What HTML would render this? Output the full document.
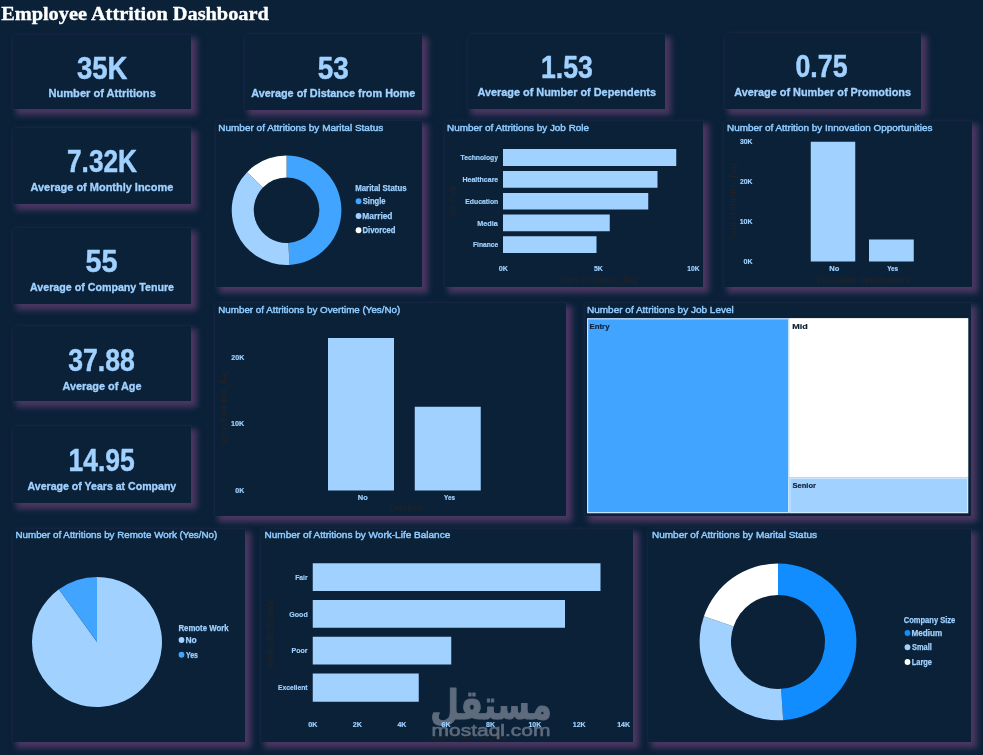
<!DOCTYPE html>
<html lang="en">
<head>
<meta charset="utf-8">
<title>Employee Attrition Dashboard</title>
<style>
html,body{margin:0;padding:0;background:#0a2138;}
body{width:983px;height:755px;position:relative;overflow:hidden;font-family:"Liberation Sans",Arial,sans-serif;}
.p{position:absolute;background:#0a2138;box-shadow:4.5px 4.5px 6px 1.5px #4b3762,0 0 1.5px 1.5px rgba(70,60,130,.13);}
svg{position:absolute;left:0;top:0;}
text{white-space:pre;}
</style>
</head>
<body>
<div class="p" style="left:12.8px;top:34.9px;width:178.50px;height:73.70px"></div>
<div class="p" style="left:244.6px;top:33.9px;width:177.20px;height:76.10px"></div>
<div class="p" style="left:467.7px;top:33.9px;width:197.30px;height:74.70px"></div>
<div class="p" style="left:724.6px;top:33.2px;width:196.40px;height:75.70px"></div>
<div class="p" style="left:12.8px;top:127.8px;width:178.60px;height:76.20px"></div>
<div class="p" style="left:12.8px;top:227.8px;width:178.60px;height:76.20px"></div>
<div class="p" style="left:12.8px;top:325.8px;width:178.60px;height:75.20px"></div>
<div class="p" style="left:12.8px;top:425.8px;width:178.40px;height:76.90px"></div>
<div class="p" style="left:215.7px;top:121px;width:206.30px;height:165.75px"></div>
<div class="p" style="left:444.6px;top:121px;width:258.60px;height:165.75px"></div>
<div class="p" style="left:724.2px;top:121px;width:247.80px;height:165.75px"></div>
<div class="p" style="left:215.3px;top:303px;width:350.45px;height:212.75px"></div>
<div class="p" style="left:584.5px;top:303px;width:386.00px;height:212.60px"></div>
<div class="p" style="left:13px;top:528.6px;width:231.60px;height:213.65px"></div>
<div class="p" style="left:261.4px;top:528.6px;width:371.60px;height:213.65px"></div>
<div class="p" style="left:648.3px;top:528.6px;width:322.45px;height:213.65px"></div>
<svg width="983" height="755" viewBox="0 0 983 755">
<text font-family="Liberation Sans, Arial, sans-serif" font-size="9" fill="#232429" id="t0" x="430.50" y="739.20" textLength="76.00" lengthAdjust="spacingAndGlyphs">Sum of Attrition_flag</text>
<g transform="translate(491 718.6) scale(0.83 1.03)">
<text font-family="DejaVu Sans, sans-serif" font-size="40" fill="#5d6b7c" font-weight="bold" stroke="#5d6b7c" stroke-width="1.0" stroke-linejoin="round" x="0.00" y="0.00" text-anchor="middle" id="wm">مستقل</text>
</g>
<text font-family="Liberation Sans, Arial, sans-serif" font-size="16.6" fill="#5d6b7c" stroke="#5d6b7c" stroke-width="0.6" stroke-linejoin="round" id="t1" x="431.50" y="735.60" textLength="119.00" lengthAdjust="spacingAndGlyphs">mostaql.com</text>
<text font-family="Liberation Serif, Times New Roman, serif" font-size="19.2" fill="#ffffff" font-weight="bold" stroke="#ffffff" stroke-width="0.35" stroke-linejoin="round" id="t2" x="1.15" y="20.00" textLength="267.70" lengthAdjust="spacingAndGlyphs">Employee Attrition Dashboard</text>
<text font-family="Liberation Sans, Arial, sans-serif" font-size="30.9" fill="#a0d1ff" font-weight="bold" stroke="#a0d1ff" stroke-width="0.5" stroke-linejoin="round" id="t3" x="77.00" y="79.00" textLength="50.50" lengthAdjust="spacingAndGlyphs">35K</text>
<text font-family="Liberation Sans, Arial, sans-serif" font-size="11.5" fill="#a0d1ff" font-weight="bold" stroke="#a0d1ff" stroke-width="0.35" stroke-linejoin="round" id="t4" x="48.50" y="96.90" textLength="107.30" lengthAdjust="spacingAndGlyphs">Number of Attritions</text>
<text font-family="Liberation Sans, Arial, sans-serif" font-size="30.9" fill="#a0d1ff" font-weight="bold" stroke="#a0d1ff" stroke-width="0.5" stroke-linejoin="round" id="t5" x="317.75" y="78.75" textLength="31.00" lengthAdjust="spacingAndGlyphs">53</text>
<text font-family="Liberation Sans, Arial, sans-serif" font-size="11.5" fill="#a0d1ff" font-weight="bold" stroke="#a0d1ff" stroke-width="0.35" stroke-linejoin="round" id="t6" x="251.25" y="97.00" textLength="164.00" lengthAdjust="spacingAndGlyphs">Average of Distance from Home</text>
<text font-family="Liberation Sans, Arial, sans-serif" font-size="30.9" fill="#a0d1ff" font-weight="bold" stroke="#a0d1ff" stroke-width="0.5" stroke-linejoin="round" id="t7" x="541.00" y="78.00" textLength="51.75" lengthAdjust="spacingAndGlyphs">1.53</text>
<text font-family="Liberation Sans, Arial, sans-serif" font-size="11.5" fill="#a0d1ff" font-weight="bold" stroke="#a0d1ff" stroke-width="0.35" stroke-linejoin="round" id="t8" x="477.50" y="96.25" textLength="178.50" lengthAdjust="spacingAndGlyphs">Average of Number of Dependents</text>
<text font-family="Liberation Sans, Arial, sans-serif" font-size="30.9" fill="#a0d1ff" font-weight="bold" stroke="#a0d1ff" stroke-width="0.5" stroke-linejoin="round" id="t9" x="795.50" y="77.00" textLength="52.00" lengthAdjust="spacingAndGlyphs">0.75</text>
<text font-family="Liberation Sans, Arial, sans-serif" font-size="11.5" fill="#a0d1ff" font-weight="bold" stroke="#a0d1ff" stroke-width="0.35" stroke-linejoin="round" id="t10" x="734.25" y="96.25" textLength="176.75" lengthAdjust="spacingAndGlyphs">Average of Number of Promotions</text>
<text font-family="Liberation Sans, Arial, sans-serif" font-size="30.9" fill="#a0d1ff" font-weight="bold" stroke="#a0d1ff" stroke-width="0.5" stroke-linejoin="round" id="t11" x="67.00" y="171.75" textLength="70.00" lengthAdjust="spacingAndGlyphs">7.32K</text>
<text font-family="Liberation Sans, Arial, sans-serif" font-size="11.5" fill="#a0d1ff" font-weight="bold" stroke="#a0d1ff" stroke-width="0.35" stroke-linejoin="round" id="t12" x="30.50" y="191.25" textLength="142.75" lengthAdjust="spacingAndGlyphs">Average of Monthly Income</text>
<text font-family="Liberation Sans, Arial, sans-serif" font-size="30.9" fill="#a0d1ff" font-weight="bold" stroke="#a0d1ff" stroke-width="0.5" stroke-linejoin="round" id="t13" x="85.50" y="271.75" textLength="32.00" lengthAdjust="spacingAndGlyphs">55</text>
<text font-family="Liberation Sans, Arial, sans-serif" font-size="11.5" fill="#a0d1ff" font-weight="bold" stroke="#a0d1ff" stroke-width="0.35" stroke-linejoin="round" id="t14" x="30.00" y="291.25" textLength="144.00" lengthAdjust="spacingAndGlyphs">Average of Company Tenure</text>
<text font-family="Liberation Sans, Arial, sans-serif" font-size="30.9" fill="#a0d1ff" font-weight="bold" stroke="#a0d1ff" stroke-width="0.5" stroke-linejoin="round" id="t15" x="68.25" y="370.75" textLength="66.50" lengthAdjust="spacingAndGlyphs">37.88</text>
<text font-family="Liberation Sans, Arial, sans-serif" font-size="11.5" fill="#a0d1ff" font-weight="bold" stroke="#a0d1ff" stroke-width="0.35" stroke-linejoin="round" id="t16" x="62.50" y="389.50" textLength="79.00" lengthAdjust="spacingAndGlyphs">Average of Age</text>
<text font-family="Liberation Sans, Arial, sans-serif" font-size="30.9" fill="#a0d1ff" font-weight="bold" stroke="#a0d1ff" stroke-width="0.5" stroke-linejoin="round" id="t17" x="68.50" y="470.75" textLength="66.25" lengthAdjust="spacingAndGlyphs">14.95</text>
<text font-family="Liberation Sans, Arial, sans-serif" font-size="11.5" fill="#a0d1ff" font-weight="bold" stroke="#a0d1ff" stroke-width="0.35" stroke-linejoin="round" id="t18" x="27.50" y="489.50" textLength="148.75" lengthAdjust="spacingAndGlyphs">Average of Years at Company</text>
<text font-family="Liberation Sans, Arial, sans-serif" font-size="9.6" fill="#90cbff" stroke="#90cbff" stroke-width="0.45" stroke-linejoin="round" id="t19" x="218.25" y="131.20" textLength="165.00" lengthAdjust="spacingAndGlyphs">Number of Attritions by Marital Status</text>
<text font-family="Liberation Sans, Arial, sans-serif" font-size="9.6" fill="#90cbff" stroke="#90cbff" stroke-width="0.45" stroke-linejoin="round" id="t20" x="447.00" y="131.20" textLength="142.00" lengthAdjust="spacingAndGlyphs">Number of Attritions by Job Role</text>
<text font-family="Liberation Sans, Arial, sans-serif" font-size="9.6" fill="#90cbff" stroke="#90cbff" stroke-width="0.45" stroke-linejoin="round" id="t21" x="727.00" y="131.20" textLength="205.50" lengthAdjust="spacingAndGlyphs">Number of Attrition by Innovation Opportunities</text>
<text font-family="Liberation Sans, Arial, sans-serif" font-size="9.6" fill="#90cbff" stroke="#90cbff" stroke-width="0.45" stroke-linejoin="round" id="t22" x="218.25" y="312.95" textLength="182.00" lengthAdjust="spacingAndGlyphs">Number of Attritions by Overtime (Yes/No)</text>
<text font-family="Liberation Sans, Arial, sans-serif" font-size="9.6" fill="#90cbff" stroke="#90cbff" stroke-width="0.45" stroke-linejoin="round" id="t23" x="587.00" y="312.70" textLength="146.75" lengthAdjust="spacingAndGlyphs">Number of Attritions by Job Level</text>
<text font-family="Liberation Sans, Arial, sans-serif" font-size="9.6" fill="#90cbff" stroke="#90cbff" stroke-width="0.45" stroke-linejoin="round" id="t24" x="15.50" y="537.70" textLength="201.75" lengthAdjust="spacingAndGlyphs">Number of Attritions by Remote Work (Yes/No)</text>
<text font-family="Liberation Sans, Arial, sans-serif" font-size="9.6" fill="#90cbff" stroke="#90cbff" stroke-width="0.45" stroke-linejoin="round" id="t25" x="264.50" y="537.70" textLength="185.75" lengthAdjust="spacingAndGlyphs">Number of Attritions by Work-Life Balance</text>
<text font-family="Liberation Sans, Arial, sans-serif" font-size="9.6" fill="#90cbff" stroke="#90cbff" stroke-width="0.45" stroke-linejoin="round" id="t26" x="652.00" y="537.70" textLength="165.00" lengthAdjust="spacingAndGlyphs">Number of Attritions by Marital Status</text>
<path d="M286.55 155.40A54.8 54.8 0 0 1 289.56 264.92L288.35 242.95A32.8 32.8 0 0 0 286.55 177.40Z" fill="#41a4ff"/>
<path d="M289.56 264.92A54.8 54.8 0 0 1 247.06 172.20L262.92 187.46A32.8 32.8 0 0 0 288.35 242.95Z" fill="#a0d1ff"/>
<path d="M247.06 172.20A54.8 54.8 0 0 1 286.55 155.40L286.55 177.40A32.8 32.8 0 0 0 262.92 187.46Z" fill="#ffffff"/>
<text font-family="Liberation Sans, Arial, sans-serif" font-size="8.3" fill="#a0d1ff" font-weight="bold" stroke="#a0d1ff" stroke-width="0.25" stroke-linejoin="round" id="t27" x="355.25" y="191.30" textLength="51.25" lengthAdjust="spacingAndGlyphs">Marital Status</text>
<circle cx="358.55" cy="201.25" r="2.9" fill="#41a4ff"/>
<text font-family="Liberation Sans, Arial, sans-serif" font-size="8.3" fill="#a0d1ff" font-weight="bold" stroke="#a0d1ff" stroke-width="0.25" stroke-linejoin="round" id="t28" x="362.75" y="204.25" textLength="22.75" lengthAdjust="spacingAndGlyphs">Single</text>
<circle cx="358.55" cy="216" r="2.9" fill="#a0d1ff"/>
<text font-family="Liberation Sans, Arial, sans-serif" font-size="8.3" fill="#a0d1ff" font-weight="bold" stroke="#a0d1ff" stroke-width="0.25" stroke-linejoin="round" id="t29" x="362.25" y="219.00" textLength="30.25" lengthAdjust="spacingAndGlyphs">Married</text>
<circle cx="358.55" cy="230.25" r="2.9" fill="#ffffff"/>
<text font-family="Liberation Sans, Arial, sans-serif" font-size="8.3" fill="#a0d1ff" font-weight="bold" stroke="#a0d1ff" stroke-width="0.25" stroke-linejoin="round" id="t30" x="362.50" y="233.25" textLength="33.00" lengthAdjust="spacingAndGlyphs">Divorced</text>
<rect x="503.00" y="149.00" width="173.25" height="17.00" fill="#a0d1ff"/>
<text font-family="Liberation Sans, Arial, sans-serif" font-size="7.8" fill="#a0d1ff" font-weight="bold" stroke="#a0d1ff" stroke-width="0.2" stroke-linejoin="round" id="t31" x="460.50" y="160.31" textLength="37.50" lengthAdjust="spacingAndGlyphs">Technology</text>
<rect x="503.00" y="171.00" width="154.50" height="16.75" fill="#a0d1ff"/>
<text font-family="Liberation Sans, Arial, sans-serif" font-size="7.8" fill="#a0d1ff" font-weight="bold" stroke="#a0d1ff" stroke-width="0.2" stroke-linejoin="round" id="t32" x="462.50" y="182.18" textLength="35.75" lengthAdjust="spacingAndGlyphs">Healthcare</text>
<rect x="503.00" y="193.00" width="145.25" height="16.50" fill="#a0d1ff"/>
<text font-family="Liberation Sans, Arial, sans-serif" font-size="7.8" fill="#a0d1ff" font-weight="bold" stroke="#a0d1ff" stroke-width="0.2" stroke-linejoin="round" id="t33" x="465.25" y="204.06" textLength="33.00" lengthAdjust="spacingAndGlyphs">Education</text>
<rect x="503.00" y="214.50" width="106.75" height="16.75" fill="#a0d1ff"/>
<text font-family="Liberation Sans, Arial, sans-serif" font-size="7.8" fill="#a0d1ff" font-weight="bold" stroke="#a0d1ff" stroke-width="0.2" stroke-linejoin="round" id="t34" x="477.25" y="225.68" textLength="20.50" lengthAdjust="spacingAndGlyphs">Media</text>
<rect x="503.00" y="236.25" width="93.50" height="16.75" fill="#a0d1ff"/>
<text font-family="Liberation Sans, Arial, sans-serif" font-size="7.8" fill="#a0d1ff" font-weight="bold" stroke="#a0d1ff" stroke-width="0.2" stroke-linejoin="round" id="t35" x="473.00" y="247.43" textLength="25.25" lengthAdjust="spacingAndGlyphs">Finance</text>
<text font-family="Liberation Sans, Arial, sans-serif" font-size="7.8" fill="#a0d1ff" font-weight="bold" stroke="#a0d1ff" stroke-width="0.2" stroke-linejoin="round" id="t36" x="498.75" y="271.06" textLength="9.25" lengthAdjust="spacingAndGlyphs">0K</text>
<text font-family="Liberation Sans, Arial, sans-serif" font-size="7.8" fill="#a0d1ff" font-weight="bold" stroke="#a0d1ff" stroke-width="0.2" stroke-linejoin="round" id="t37" x="593.88" y="271.06" textLength="9.00" lengthAdjust="spacingAndGlyphs">5K</text>
<text font-family="Liberation Sans, Arial, sans-serif" font-size="7.8" fill="#a0d1ff" font-weight="bold" stroke="#a0d1ff" stroke-width="0.2" stroke-linejoin="round" id="t38" x="687.25" y="271.06" textLength="12.25" lengthAdjust="spacingAndGlyphs">10K</text>
<text font-family="Liberation Sans, Arial, sans-serif" font-size="9" fill="#232429" x="436.25" y="204.45" textLength="32.50" lengthAdjust="spacingAndGlyphs" transform="rotate(-90 452.50 201.25)">Job Role</text>
<text font-family="Liberation Sans, Arial, sans-serif" font-size="9" fill="#232429" id="t39" x="560.00" y="283.20" textLength="76.75" lengthAdjust="spacingAndGlyphs">Sum of Attrition_flag</text>
<rect x="810.75" y="141.75" width="44.50" height="119.75" fill="#a0d1ff"/>
<rect x="869.00" y="239.50" width="44.75" height="22.00" fill="#a0d1ff"/>
<text font-family="Liberation Sans, Arial, sans-serif" font-size="7.8" fill="#a0d1ff" font-weight="bold" stroke="#a0d1ff" stroke-width="0.2" stroke-linejoin="round" id="t40" x="740.00" y="144.31" textLength="12.50" lengthAdjust="spacingAndGlyphs">30K</text>
<text font-family="Liberation Sans, Arial, sans-serif" font-size="7.8" fill="#a0d1ff" font-weight="bold" stroke="#a0d1ff" stroke-width="0.2" stroke-linejoin="round" id="t41" x="740.00" y="184.31" textLength="12.50" lengthAdjust="spacingAndGlyphs">20K</text>
<text font-family="Liberation Sans, Arial, sans-serif" font-size="7.8" fill="#a0d1ff" font-weight="bold" stroke="#a0d1ff" stroke-width="0.2" stroke-linejoin="round" id="t42" x="739.75" y="224.31" textLength="12.75" lengthAdjust="spacingAndGlyphs">10K</text>
<text font-family="Liberation Sans, Arial, sans-serif" font-size="7.8" fill="#a0d1ff" font-weight="bold" stroke="#a0d1ff" stroke-width="0.2" stroke-linejoin="round" id="t43" x="743.50" y="264.06" textLength="9.00" lengthAdjust="spacingAndGlyphs">0K</text>
<text font-family="Liberation Sans, Arial, sans-serif" font-size="7.8" fill="#a0d1ff" font-weight="bold" stroke="#a0d1ff" stroke-width="0.2" stroke-linejoin="round" id="t44" x="829.25" y="271.06" textLength="10.00" lengthAdjust="spacingAndGlyphs">No</text>
<text font-family="Liberation Sans, Arial, sans-serif" font-size="7.8" fill="#a0d1ff" font-weight="bold" stroke="#a0d1ff" stroke-width="0.2" stroke-linejoin="round" id="t45" x="887.18" y="271.06" textLength="11.00" lengthAdjust="spacingAndGlyphs">Yes</text>
<text font-family="Liberation Sans, Arial, sans-serif" font-size="9" fill="#232429" x="694.62" y="204.82" textLength="75.75" lengthAdjust="spacingAndGlyphs" transform="rotate(-90 732.50 201.62)">Sum of Attrition_flag</text>
<text font-family="Liberation Sans, Arial, sans-serif" font-size="9" fill="#232429" id="t46" x="817.50" y="283.20" textLength="91.75" lengthAdjust="spacingAndGlyphs">Innovation Opportunities</text>
<rect x="328.00" y="338.00" width="66.00" height="152.50" fill="#a0d1ff"/>
<rect x="414.75" y="406.75" width="66.00" height="83.75" fill="#a0d1ff"/>
<text font-family="Liberation Sans, Arial, sans-serif" font-size="7.8" fill="#a0d1ff" font-weight="bold" stroke="#a0d1ff" stroke-width="0.2" stroke-linejoin="round" id="t47" x="231.25" y="360.31" textLength="13.00" lengthAdjust="spacingAndGlyphs">20K</text>
<text font-family="Liberation Sans, Arial, sans-serif" font-size="7.8" fill="#a0d1ff" font-weight="bold" stroke="#a0d1ff" stroke-width="0.2" stroke-linejoin="round" id="t48" x="231.00" y="426.06" textLength="13.25" lengthAdjust="spacingAndGlyphs">10K</text>
<text font-family="Liberation Sans, Arial, sans-serif" font-size="7.8" fill="#a0d1ff" font-weight="bold" stroke="#a0d1ff" stroke-width="0.2" stroke-linejoin="round" id="t49" x="235.25" y="492.81" textLength="9.00" lengthAdjust="spacingAndGlyphs">0K</text>
<text font-family="Liberation Sans, Arial, sans-serif" font-size="7.8" fill="#a0d1ff" font-weight="bold" stroke="#a0d1ff" stroke-width="0.2" stroke-linejoin="round" id="t50" x="357.75" y="500.06" textLength="10.00" lengthAdjust="spacingAndGlyphs">No</text>
<text font-family="Liberation Sans, Arial, sans-serif" font-size="7.8" fill="#a0d1ff" font-weight="bold" stroke="#a0d1ff" stroke-width="0.2" stroke-linejoin="round" id="t51" x="444.12" y="500.06" textLength="11.00" lengthAdjust="spacingAndGlyphs">Yes</text>
<text font-family="Liberation Sans, Arial, sans-serif" font-size="9" fill="#232429" x="186.25" y="410.70" textLength="75.00" lengthAdjust="spacingAndGlyphs" transform="rotate(-90 223.75 407.50)">Sum of Attrition_flag</text>
<text font-family="Liberation Sans, Arial, sans-serif" font-size="9" fill="#232429" id="t52" x="389.00" y="511.20" textLength="34.50" lengthAdjust="spacingAndGlyphs">Overtime</text>
<rect x="587.00" y="318.20" width="202.20" height="195.00" fill="#41a4ff"/>
<rect x="587.60" y="318.80" width="201.00" height="193.80" fill="none" stroke="#ffffff" stroke-opacity="0.7" stroke-width="1.2"/>
<rect x="789.20" y="318.20" width="179.00" height="159.40" fill="#ffffff"/>
<rect x="789.80" y="318.80" width="177.80" height="158.20" fill="none" stroke="#ffffff" stroke-opacity="0.6" stroke-width="1.2"/>
<rect x="789.20" y="477.60" width="179.00" height="35.60" fill="#a0d1ff"/>
<rect x="789.80" y="478.20" width="177.80" height="34.40" fill="none" stroke="#ffffff" stroke-opacity="0.55" stroke-width="1.2"/>
<text font-family="Liberation Sans, Arial, sans-serif" font-size="8" fill="#12233c" font-weight="bold" stroke="#12233c" stroke-width="0.2" stroke-linejoin="round" id="t53" x="589.50" y="329.38" textLength="20.00" lengthAdjust="spacingAndGlyphs">Entry</text>
<text font-family="Liberation Sans, Arial, sans-serif" font-size="8" fill="#12233c" font-weight="bold" stroke="#12233c" stroke-width="0.2" stroke-linejoin="round" id="t54" x="792.25" y="329.13" textLength="15.50" lengthAdjust="spacingAndGlyphs">Mid</text>
<text font-family="Liberation Sans, Arial, sans-serif" font-size="8" fill="#12233c" font-weight="bold" stroke="#12233c" stroke-width="0.2" stroke-linejoin="round" id="t55" x="792.50" y="488.13" textLength="23.50" lengthAdjust="spacingAndGlyphs">Senior</text>
<path d="M97.0 642.0L97.00 577.00A65 65 0 1 1 58.93 589.31Z" fill="#a0d1ff"/>
<path d="M97.0 642.0L58.93 589.31A65 65 0 0 1 97.00 577.00Z" fill="#41a4ff"/>
<text font-family="Liberation Sans, Arial, sans-serif" font-size="8.3" fill="#a0d1ff" font-weight="bold" stroke="#a0d1ff" stroke-width="0.25" stroke-linejoin="round" id="t56" x="178.40" y="630.90" textLength="50.20" lengthAdjust="spacingAndGlyphs">Remote Work</text>
<circle cx="181.5" cy="640" r="2.9" fill="#a0d1ff"/>
<text font-family="Liberation Sans, Arial, sans-serif" font-size="8.3" fill="#a0d1ff" font-weight="bold" stroke="#a0d1ff" stroke-width="0.25" stroke-linejoin="round" id="t57" x="185.50" y="643.00" textLength="11.25" lengthAdjust="spacingAndGlyphs">No</text>
<circle cx="181.5" cy="654.75" r="2.9" fill="#41a4ff"/>
<text font-family="Liberation Sans, Arial, sans-serif" font-size="8.3" fill="#a0d1ff" font-weight="bold" stroke="#a0d1ff" stroke-width="0.25" stroke-linejoin="round" id="t58" x="186.00" y="657.75" textLength="12.00" lengthAdjust="spacingAndGlyphs">Yes</text>
<rect x="312.75" y="563.25" width="287.75" height="27.75" fill="#a0d1ff"/>
<text font-family="Liberation Sans, Arial, sans-serif" font-size="7.8" fill="#a0d1ff" font-weight="bold" stroke="#a0d1ff" stroke-width="0.2" stroke-linejoin="round" id="t59" x="295.25" y="579.93" textLength="12.25" lengthAdjust="spacingAndGlyphs">Fair</text>
<rect x="312.75" y="600.00" width="252.25" height="27.75" fill="#a0d1ff"/>
<text font-family="Liberation Sans, Arial, sans-serif" font-size="7.8" fill="#a0d1ff" font-weight="bold" stroke="#a0d1ff" stroke-width="0.2" stroke-linejoin="round" id="t60" x="289.25" y="616.68" textLength="18.50" lengthAdjust="spacingAndGlyphs">Good</text>
<rect x="312.75" y="636.75" width="138.50" height="27.75" fill="#a0d1ff"/>
<text font-family="Liberation Sans, Arial, sans-serif" font-size="7.8" fill="#a0d1ff" font-weight="bold" stroke="#a0d1ff" stroke-width="0.2" stroke-linejoin="round" id="t61" x="291.50" y="653.43" textLength="16.00" lengthAdjust="spacingAndGlyphs">Poor</text>
<rect x="312.75" y="673.50" width="106.00" height="28.25" fill="#a0d1ff"/>
<text font-family="Liberation Sans, Arial, sans-serif" font-size="7.8" fill="#a0d1ff" font-weight="bold" stroke="#a0d1ff" stroke-width="0.2" stroke-linejoin="round" id="t62" x="278.00" y="690.43" textLength="29.50" lengthAdjust="spacingAndGlyphs">Excellent</text>
<text font-family="Liberation Sans, Arial, sans-serif" font-size="7.8" fill="#a0d1ff" font-weight="bold" stroke="#a0d1ff" stroke-width="0.2" stroke-linejoin="round" id="t63" x="308.25" y="727.06" textLength="9.25" lengthAdjust="spacingAndGlyphs">0K</text>
<text font-family="Liberation Sans, Arial, sans-serif" font-size="7.8" fill="#a0d1ff" font-weight="bold" stroke="#a0d1ff" stroke-width="0.2" stroke-linejoin="round" id="t64" x="352.70" y="727.06" textLength="9.25" lengthAdjust="spacingAndGlyphs">2K</text>
<text font-family="Liberation Sans, Arial, sans-serif" font-size="7.8" fill="#a0d1ff" font-weight="bold" stroke="#a0d1ff" stroke-width="0.2" stroke-linejoin="round" id="t65" x="397.40" y="727.06" textLength="9.00" lengthAdjust="spacingAndGlyphs">4K</text>
<text font-family="Liberation Sans, Arial, sans-serif" font-size="7.8" fill="#a0d1ff" font-weight="bold" stroke="#a0d1ff" stroke-width="0.2" stroke-linejoin="round" id="t66" x="441.60" y="727.06" textLength="9.00" lengthAdjust="spacingAndGlyphs">6K</text>
<text font-family="Liberation Sans, Arial, sans-serif" font-size="7.8" fill="#a0d1ff" font-weight="bold" stroke="#a0d1ff" stroke-width="0.2" stroke-linejoin="round" id="t67" x="486.05" y="727.06" textLength="9.00" lengthAdjust="spacingAndGlyphs">8K</text>
<text font-family="Liberation Sans, Arial, sans-serif" font-size="7.8" fill="#a0d1ff" font-weight="bold" stroke="#a0d1ff" stroke-width="0.2" stroke-linejoin="round" id="t68" x="528.50" y="727.06" textLength="12.75" lengthAdjust="spacingAndGlyphs">10K</text>
<text font-family="Liberation Sans, Arial, sans-serif" font-size="7.8" fill="#a0d1ff" font-weight="bold" stroke="#a0d1ff" stroke-width="0.2" stroke-linejoin="round" id="t69" x="572.70" y="727.06" textLength="13.00" lengthAdjust="spacingAndGlyphs">12K</text>
<text font-family="Liberation Sans, Arial, sans-serif" font-size="7.8" fill="#a0d1ff" font-weight="bold" stroke="#a0d1ff" stroke-width="0.2" stroke-linejoin="round" id="t70" x="617.15" y="727.06" textLength="13.00" lengthAdjust="spacingAndGlyphs">14K</text>
<text font-family="Liberation Sans, Arial, sans-serif" font-size="9" fill="#232429" x="235.12" y="636.33" textLength="68.75" lengthAdjust="spacingAndGlyphs" transform="rotate(-90 269.50 633.12)">Work-Life Balance</text>
<path d="M778.00 563.50A78.4 78.4 0 0 1 783.20 720.13L781.11 688.80A47 47 0 0 0 778.00 594.90Z" fill="#118dff"/>
<path d="M783.20 720.13A78.4 78.4 0 0 1 703.92 616.25L733.59 626.52A47 47 0 0 0 781.11 688.80Z" fill="#a0d1ff"/>
<path d="M703.92 616.25A78.4 78.4 0 0 1 778.00 563.50L778.00 594.90A47 47 0 0 0 733.59 626.52Z" fill="#ffffff"/>
<text font-family="Liberation Sans, Arial, sans-serif" font-size="8.3" fill="#a0d1ff" font-weight="bold" stroke="#a0d1ff" stroke-width="0.25" stroke-linejoin="round" id="t71" x="903.75" y="623.30" textLength="51.50" lengthAdjust="spacingAndGlyphs">Company Size</text>
<circle cx="907.5" cy="633" r="2.9" fill="#118dff"/>
<text font-family="Liberation Sans, Arial, sans-serif" font-size="8.3" fill="#a0d1ff" font-weight="bold" stroke="#a0d1ff" stroke-width="0.25" stroke-linejoin="round" id="t72" x="911.50" y="636.00" textLength="30.75" lengthAdjust="spacingAndGlyphs">Medium</text>
<circle cx="907.5" cy="647.25" r="2.9" fill="#a0d1ff"/>
<text font-family="Liberation Sans, Arial, sans-serif" font-size="8.3" fill="#a0d1ff" font-weight="bold" stroke="#a0d1ff" stroke-width="0.25" stroke-linejoin="round" id="t73" x="912.00" y="650.25" textLength="19.75" lengthAdjust="spacingAndGlyphs">Small</text>
<circle cx="907.5" cy="662" r="2.9" fill="#ffffff"/>
<text font-family="Liberation Sans, Arial, sans-serif" font-size="8.3" fill="#a0d1ff" font-weight="bold" stroke="#a0d1ff" stroke-width="0.25" stroke-linejoin="round" id="t74" x="911.75" y="665.00" textLength="20.25" lengthAdjust="spacingAndGlyphs">Large</text>
</svg>
</body>
</html>
